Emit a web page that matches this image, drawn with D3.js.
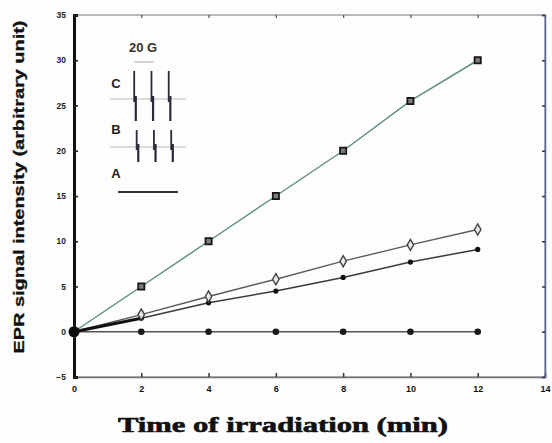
<!DOCTYPE html>
<html>
<head>
<meta charset="utf-8">
<script src="https://cdn.jsdelivr.net/npm/d3@7"></script>
<style>
  html, body { margin: 0; padding: 0; background: #fdfdfd; }
  svg { display: block; }
</style>
</head>
<body>
<svg id="chart" width="552" height="443"></svg>
<script>
// ---- data ----
const times = [0, 2, 4, 6, 8, 10, 12];
const seriesSquare  = [0, 5.0, 10.0, 15.0, 20.0, 25.5, 30.0];
const seriesDiamond = [0, 1.9, 3.9, 5.8, 7.8, 9.6, 11.3];
const seriesDot     = [0, 1.5, 3.2, 4.5, 6.0, 7.7, 9.1];
const seriesFlat    = [0, 0, 0, 0, 0, 0, 0];
const xTicks = [0, 2, 4, 6, 8, 10, 12, 14];
const yTicks = [-5, 0, 5, 10, 15, 20, 25, 30, 35];
const xTitle = "Time of irradiation (min)";
const yTitle = "EPR signal intensity (arbitrary unit)";
// inset EPR spectra (field position in G, relative amplitude), labels
const insetLabels = ["C", "B", "A"];
const specC = [[0, 1], [14, 1], [28, 1]];
const specB = [[2, 1], [16, 1], [30, 1]];
const scaleBarLabel = "20 G";

// ---- layout ----
const svg = d3.select("#chart");
const x = d3.scaleLinear().domain([0, 14]).range([74, 545]);
const y = d3.scaleLinear().domain([-5, 35]).range([377, 15]);

const g = svg.append("g");

// frame (thin grey top/right/bottom)
g.append("rect")
  .attr("x", x(0)).attr("y", y(35))
  .attr("width", x(14) - x(0)).attr("height", y(-5) - y(35))
  .attr("fill", "none").attr("stroke", "#8a8f95").attr("stroke-width", 1.2);

// bottom axis ticks (inward) + labels
const xAxis = d3.axisBottom(x).tickValues(xTicks).tickSize(-4).tickPadding(9).tickFormat(d3.format("d"));
const gx = g.append("g").attr("transform", `translate(0,${y(-5)})`).call(xAxis);
gx.select(".domain").attr("stroke", "#6d7278").attr("stroke-width", 1.3);
gx.selectAll(".tick line").attr("stroke", "#333").attr("stroke-width", 1.5);
gx.selectAll("text").attr("font-family", "Liberation Sans, Arial, sans-serif").attr("font-weight", "bold")
  .attr("font-size", 9).attr("fill", "#111");

// top mirrored ticks
const gxt = g.append("g").attr("transform", `translate(0,${y(35)})`)
  .call(d3.axisTop(x).tickValues(xTicks).tickSize(-3).tickFormat(""));
gxt.select(".domain").remove();
gxt.selectAll(".tick line").attr("stroke", "#557").attr("stroke-width", 1.3);

// right mirrored ticks
const gyr = g.append("g").attr("transform", `translate(${x(14)},0)`)
  .call(d3.axisRight(y).tickValues(yTicks).tickSize(-3).tickFormat(""));
gyr.select(".domain").attr("stroke", "#556a88").attr("stroke-width", 1.5);
gyr.selectAll(".tick line").attr("stroke", "#335").attr("stroke-width", 1.5);

// left axis: thick black
const yAxis = d3.axisLeft(y).tickValues(yTicks).tickSize(-4).tickPadding(8).tickFormat(d3.format("d"));
const gy = g.append("g").attr("transform", `translate(${x(0)},0)`).call(yAxis);
gy.select(".domain").attr("stroke", "#111").attr("stroke-width", 3);
gy.selectAll(".tick line").attr("stroke", "#222").attr("stroke-width", 1.6);
gy.selectAll("text").attr("font-family", "Liberation Sans, Arial, sans-serif").attr("font-weight", "bold")
  .attr("font-size", 8.5).attr("fill", "#222");

// ---- series ----
const line = d3.line().x((d, i) => x(times[i])).y(d => y(d));
function drawSeries(vals, color, width) {
  g.append("path").datum(vals).attr("d", line)
    .attr("fill", "none").attr("stroke", color).attr("stroke-width", width);
}
drawSeries(seriesFlat, "#555", 1.4);
drawSeries(seriesDot, "#3a3a3a", 1.5);
drawSeries(seriesDiamond, "#5b5b5b", 1.4);
drawSeries(seriesSquare, "#5f8f80", 1.5);
// thick dark section near origin
g.append("path").datum(seriesDot.slice(0, 2)).attr("d", line)
  .attr("fill", "none").attr("stroke", "#111").attr("stroke-width", 3);

// markers
g.selectAll(".mflat").data(seriesFlat).join("circle")
  .attr("cx", (d, i) => x(times[i])).attr("cy", d => y(d)).attr("r", 3.3).attr("fill", "#1a1a1a");
g.selectAll(".mdot").data(seriesDot).join("circle")
  .attr("cx", (d, i) => x(times[i])).attr("cy", d => y(d)).attr("r", 2.6).attr("fill", "#111");
g.selectAll(".mdia").data(seriesDiamond).join("path")
  .attr("transform", (d, i) => `translate(${x(times[i])},${y(d)})`)
  .attr("d", d3.symbol(d3.symbolDiamond, 36))
  .attr("fill", "#e8e8ee").attr("stroke", "#444").attr("stroke-width", 1.4);
g.selectAll(".msq").data(seriesSquare).join("path")
  .attr("transform", (d, i) => `translate(${x(times[i])},${y(d)})`)
  .attr("d", d3.symbol(d3.symbolSquare, 38))
  .attr("fill", "#7d7d7d").attr("stroke", "#151515").attr("stroke-width", 1.8);
g.append("circle").attr("cx", x(0)).attr("cy", y(0)).attr("r", 5.5).attr("fill", "#0d0d0d");

// ---- inset ----
const ix = d3.scaleLinear().domain([0, 30]).range([135, 172]);
const ig = g.append("g");
ig.append("text").attr("x", 143).attr("y", 52).attr("text-anchor", "middle")
  .attr("font-family", "Liberation Sans, Arial, sans-serif").attr("font-size", 13).attr("font-weight", "bold")
  .attr("fill", "#333").text(scaleBarLabel);
ig.append("line").attr("x1", 134).attr("x2", 154).attr("y1", 62).attr("y2", 62)
  .attr("stroke", "#aab").attr("stroke-width", 1);
const baseY = [99, 147];
const ampUp = [28, 17];
const ampDn = [22, 15];
[specC, specB].forEach((spec, k) => {
  ig.append("line").attr("x1", 110).attr("x2", 186).attr("y1", baseY[k]).attr("y2", baseY[k])
    .attr("stroke", "#c0b8b0").attr("stroke-width", 1);
  spec.forEach(p => {
    const cx = ix(p[0]);
    ig.append("line").attr("x1", cx - 0.8).attr("x2", cx - 0.8)
      .attr("y1", baseY[k] - ampUp[k] * p[1]).attr("y2", baseY[k] + 3)
      .attr("stroke", "#2a2a3a").attr("stroke-width", 1.8);
    ig.append("line").attr("x1", cx + 0.8).attr("x2", cx + 0.8)
      .attr("y1", baseY[k] - 3).attr("y2", baseY[k] + ampDn[k] * p[1])
      .attr("stroke", "#2a2a3a").attr("stroke-width", 2.2);
  });
});
ig.append("line").attr("x1", 118).attr("x2", 178).attr("y1", 192).attr("y2", 192)
  .attr("stroke", "#333").attr("stroke-width", 1.8);
const labY = [88, 134, 178];
insetLabels.forEach((t, k) => {
  ig.append("text").attr("x", 116).attr("y", labY[k]).attr("text-anchor", "middle")
    .attr("font-family", "Liberation Sans, Arial, sans-serif").attr("font-weight", "bold")
    .attr("font-size", 13).attr("fill", "#222").text(t);
});

// ---- titles ----
svg.append("text").attr("x", 283).attr("y", 432).attr("text-anchor", "middle")
  .attr("font-family", "Liberation Serif, Times New Roman, serif").attr("font-weight", "bold")
  .attr("font-size", 21).attr("fill", "#111").attr("stroke", "#111").attr("stroke-width", 0.6)
  .attr("textLength", 330).attr("lengthAdjust", "spacingAndGlyphs").text(xTitle);
svg.append("text").attr("transform", "translate(24,187) rotate(-90)").attr("text-anchor", "middle")
  .attr("font-family", "Liberation Sans, Arial, sans-serif").attr("font-weight", "bold")
  .attr("font-size", 15).attr("fill", "#111").attr("stroke", "#111").attr("stroke-width", 0.3)
  .attr("textLength", 333).attr("lengthAdjust", "spacingAndGlyphs").text(yTitle);
</script>
</body>
</html>
